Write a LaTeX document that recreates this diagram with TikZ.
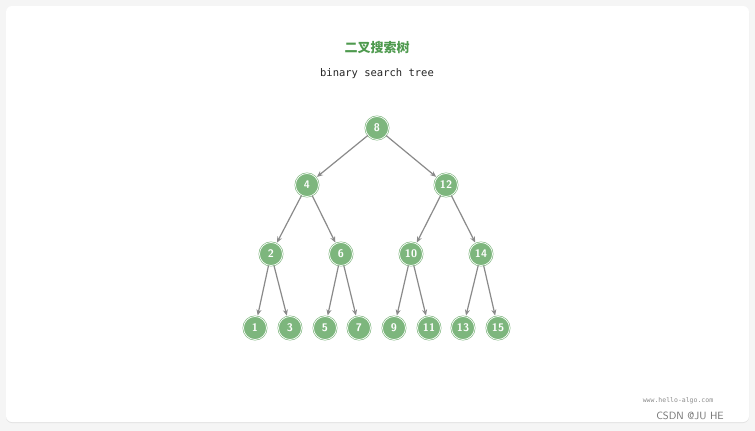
\documentclass[tikz,border=0pt]{standalone}
\usepackage{fontspec}
\setmainfont{DejaVu Sans}
\newfontfamily\cjk{Noto Sans CJK SC}
\setmonofont{DejaVu Sans Mono}
\usetikzlibrary{arrows.meta,shadows}
\definecolor{ng}{HTML}{7DB67D}
\definecolor{tg}{HTML}{4E9A4E}
\definecolor{eg}{HTML}{8A8A8A}
\begin{document}
\begin{tikzpicture}[x=1pt,y=-1pt,
  tn/.style={circle,fill=ng,draw=ng,double=white,double distance=0.7pt,line width=0.6pt,minimum size=23pt,inner sep=0pt,text=white,font=\sffamily\bfseries\fontsize{11}{13}\selectfont},
  ed/.style={draw=eg,line width=1.2pt,-{Stealth[length=6pt,width=5pt]},shorten >=1pt}]
\fill[black!4] (0,0) rectangle (755,431);
\useasboundingbox (0,0) rectangle (755,431);
\fill[white,rounded corners=6pt,drop shadow={opacity=0.15,shadow xshift=0pt,shadow yshift=-1pt}] (6,6) rectangle (749,422);
\node[text=tg,font=\cjk\bfseries\fontsize{13}{15}\selectfont] (title) at (377,48) {二叉搜索树};
\node[text=black!85,font=\ttfamily\fontsize{10.5}{12}\selectfont] (sub) at (377,74) {binary search tree};
\node[tn] (n8) at (377,128) {8};
\node[tn] (n4) at (307,185) {4};
\node[tn] (n12) at (446,185) {12};
\node[tn] (n2) at (271,254) {2};
\node[tn] (n6) at (341,254) {6};
\node[tn] (n10) at (411,254) {10};
\node[tn] (n14) at (481,254) {14};
\node[tn] (n1) at (255,328) {1};
\node[tn] (n3) at (290,328) {3};
\node[tn] (n5) at (325,328) {5};
\node[tn] (n7) at (359,328) {7};
\node[tn] (n9) at (394,328) {9};
\node[tn] (n11) at (429,328) {11};
\node[tn] (n13) at (463,328) {13};
\node[tn] (n15) at (498,328) {15};
\foreach \a/\b in {n8/n4,n8/n12,n4/n2,n4/n6,n12/n10,n12/n14,n2/n1,n2/n3,n6/n5,n6/n7,n10/n9,n10/n11,n14/n13,n14/n15}
  \draw[ed] (\a) -- (\b);
\node[text=black!45,font=\ttfamily\fontsize{6.5}{8}\selectfont] (wm) at (678,401) {www.hello-algo.com};
\node[text=black!55,font=\sffamily\fontsize{10.5}{12}\selectfont] (csdn) at (690,416) {CSDN @JU HE};
\end{tikzpicture}
\end{document}
